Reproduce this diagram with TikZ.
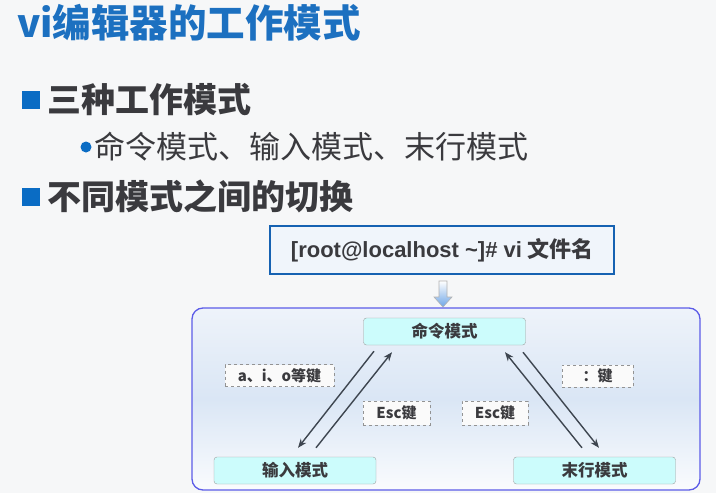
\documentclass[tikz,border=0pt]{standalone}
\usepackage{fontspec}
\setmainfont{Noto Sans CJK SC}
\newfontfamily\arialf{Liberation Sans}
\usetikzlibrary{arrows.meta,positioning}

\definecolor{fondo}{RGB}{246,247,248}
\definecolor{tituloazul}{RGB}{28,112,192}
\definecolor{cuadroazul}{RGB}{10,108,196}
\definecolor{textogris}{RGB}{58,58,62}
\definecolor{cajaazul}{RGB}{22,98,178}
\definecolor{cajafondo}{RGB}{240,245,251}
\definecolor{marcoazul}{RGB}{92,92,232}
\definecolor{marcoarriba}{RGB}{238,243,250}
\definecolor{marcomedio}{RGB}{218,230,245}
\definecolor{modocian}{RGB}{204,252,252}
\definecolor{flechagris}{RGB}{62,70,80}
\definecolor{flechaazul}{RGB}{110,165,230}

\begin{document}
\begin{tikzpicture}[x=1pt,y=-1pt,
    modo/.style={draw=gray!75, fill=modocian, rounded corners=3pt, minimum width=162pt,
        minimum height=27pt, inner sep=0pt, text=textogris,
        font=\fontsize{16.5}{18}\selectfont\bfseries},
    tecla/.style={draw=gray!85, dashed, line width=0.9pt, fill=white!96!gray, minimum height=22pt,
        inner sep=0pt, text=textogris, font=\fontsize{15}{17}\selectfont\bfseries},
    flecha/.style={draw=flechagris, line width=1.4pt, -{Stealth[length=9pt,width=7pt]}}]

    \useasboundingbox (0,0) rectangle (716,493);
    \fill[fondo] (0,0) rectangle (716,493);

    %Titulo
    \node[anchor=west, inner sep=0pt, text=tituloazul, font=\fontsize{38.5}{42}\selectfont\bfseries]
        (titulo) at (17,23) {vi编辑器的工作模式};

    %Puntos
    \fill[cuadroazul] (22,91) rectangle (40,109);
    \node[anchor=west, inner sep=0pt, text=textogris, font=\fontsize{34}{38}\selectfont\bfseries]
        (punto1) at (47,100) {三种工作模式};
    \fill[cuadroazul] (86,147) circle (5.5);
    \node[anchor=west, inner sep=0pt, text=textogris, font=\fontsize{31}{35}\selectfont]
        (modos) at (94,147) {命令模式、输入模式、末行模式};
    \fill[cuadroazul] (22,188) rectangle (40,206);
    \node[anchor=west, inner sep=0pt, text=textogris, font=\fontsize{34}{38}\selectfont\bfseries]
        (punto2) at (47,196) {不同模式之间的切换};

    %Comando
    \node[draw=cajaazul, line width=2.5pt, fill=cajafondo, minimum width=344pt, minimum height=48pt,
        inner sep=0pt, text=textogris, font=\fontsize{22}{26}\selectfont\bfseries]
        (comando) at (442,250) {{\arialf [root@localhost \textasciitilde]\# vi} 文件名};
    \shade[top color=white, bottom color=flechaazul, draw=gray!60, line width=0.6pt]
        (439,281) -- (447,281) -- (447,297) -- (452,297) -- (443,307) -- (434,297) -- (439,297) -- cycle;

    %Marco
    \draw[draw=marcoazul, line width=1.3pt, rounded corners=11pt, top color=marcoarriba,
        bottom color=white!70!marcoarriba, middle color=marcomedio] (192,308) rectangle (700,490);

    %Modos
    \node[modo] (cmdo) at (444.5,331.5) {命令模式};
    \node[modo] (entrada) at (295,470.5) {输入模式};
    \node[modo] (ultima) at (594.5,470.5) {末行模式};

    %Flechas
    \draw[flecha] ([xshift=-70.5pt,yshift=-6pt]cmdo.south) -- ([xshift=3pt,yshift=9pt]entrada.north);
    \draw[flecha] ([xshift=21pt,yshift=9pt]entrada.north) -- ([xshift=-52.5pt,yshift=-7pt]cmdo.south);
    \draw[flecha] ([xshift=-12.5pt,yshift=9pt]ultima.north) -- ([xshift=60.5pt,yshift=-7pt]cmdo.south);
    \draw[flecha] ([xshift=78.5pt,yshift=-7pt]cmdo.south) -- ([xshift=4.5pt,yshift=9pt]ultima.north);

    %Teclas
    \node[tecla, minimum width=109pt] (teclaent) at (279.5,375.5) {a、i、o等键};
    \node[tecla, minimum width=67pt, minimum height=24pt] (escizq) at (396.5,413) {Esc键};
    \node[tecla, minimum width=66pt, minimum height=24pt] (escder) at (495,413) {Esc键};
    \node[tecla, minimum width=71pt] (teclault) at (597.5,376) {：键};

\end{tikzpicture}
\end{document}
